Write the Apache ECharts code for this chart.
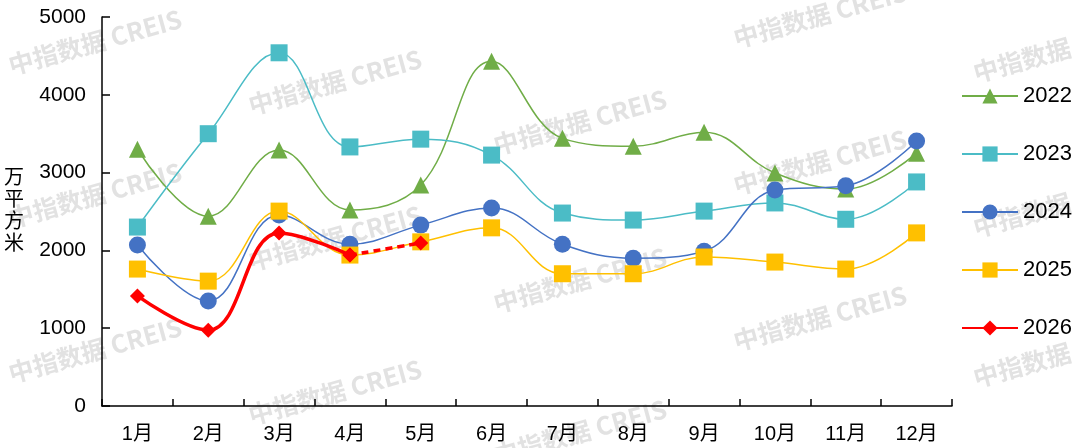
<!DOCTYPE html>
<html>
<head>
<meta charset="utf-8">
<script src="https://cdn.jsdelivr.net/npm/echarts@6/dist/echarts.min.js"></script>
<style>
  html, body { margin: 0; padding: 0; background: #fff; }
  #chart { width: 1080px; height: 448px; }
</style>
</head>
<body>
<div id="chart"></div>
<script>
// 月份
const months = ['1月', '2月', '3月', '4月', '5月', '6月', '7月', '8月', '9月', '10月', '11月', '12月'];

// 各年度数据（万平方米）
const v2022 = [3300, 2440, 3290, 2520, 2840, 4430, 3440, 3340, 3520, 2995, 2790, 3250];
const v2023 = [2300, 3500, 4540, 3330, 3430, 3225, 2480, 2390, 2505, 2610, 2400, 2880];
const v2024 = [2070, 1350, 2455, 2080, 2325, 2545, 2080, 1900, 1990, 2775, 2830, 3405];
const v2025 = [1760, 1605, 2505, 1940, 2110, 2290, 1700, 1700, 1915, 1850, 1760, 2225];
// 2026：1-4月实线，4-5月虚线
const v2026 = [1415, 975, 2225, 1940];
const v2026Dash = [null, null, null, 1940, 2095];

const yTicks = [0, 1000, 2000, 3000, 4000, 5000];

const chart = echarts.init(document.getElementById('chart'));

// 水印
const marks = [
  [95, 42, '中指数据 CREIS'], [335, 82, '中指数据 CREIS'], [820, 15, '中指数据 CREIS'], [1022, 60, '中指数据'],
  [95, 195, '中指数据 CREIS'], [335, 238, '中指数据 CREIS'], [580, 122, '中指数据 CREIS'], [820, 162, '中指数据 CREIS'], [1022, 215, '中指数据'],
  [95, 350, '中指数据 CREIS'], [335, 392, '中指数据 CREIS'], [580, 280, '中指数据 CREIS'], [820, 318, '中指数据 CREIS'], [1022, 365, '中指数据'],
  [580, 432, '中指数据 CREIS']
];
const watermark = marks.map(m => ({
  type: 'text',
  x: m[0],
  y: m[1],
  rotation: 0.27,
  z: 0,
  silent: true,
  style: {
    text: m[2],
    fill: '#e2e2e2',
    font: 'bold 25px "Noto Sans CJK SC", sans-serif',
    align: 'center',
    verticalAlign: 'middle'
  }
}));

const font = '"Liberation Sans", Arial, "Noto Sans CJK SC", sans-serif';

function lineSeries(name, data, color, symbol, size) {
  return {
    name: name,
    type: 'line',
    data: data,
    smooth: 0.4,
    symbol: symbol,
    symbolSize: size,
    lineStyle: { color: color, width: 1.5 },
    itemStyle: { color: color },
    z: 3
  };
}

const options = {
  animation: false,
  graphic: watermark,
  grid: { left: 102, right: 128, top: 17, bottom: 42 },
  legend: {
    orient: 'vertical',
    left: 956,
    top: 80,
    itemWidth: 56,
    itemHeight: 19,
    itemGap: 36,
    textStyle: { fontSize: 22, color: '#000', fontFamily: font },
    data: ['2022', '2023', '2024', '2025', '2026']
  },
  xAxis: {
    type: 'category',
    data: months,
    boundaryGap: true,
    axisLine: { lineStyle: { color: '#000', width: 1.5 } },
    axisTick: { show: true, inside: true, length: 7, alignWithLabel: false, lineStyle: { color: '#000', width: 1.5 } },
    axisLabel: { fontSize: 20, color: '#000', margin: 18, fontFamily: font }
  },
  yAxis: {
    type: 'value',
    min: yTicks[0],
    max: yTicks[yTicks.length - 1],
    interval: 1000,
    name: '万\n平\n方\n米',
    nameLocation: 'middle',
    nameRotate: 0,
    nameGap: 78,
    nameTextStyle: { fontSize: 20, color: '#000', lineHeight: 22, fontFamily: font },
    splitLine: { show: false },
    axisLine: { show: true, lineStyle: { color: '#000', width: 1.5 } },
    axisTick: { show: true, inside: true, length: 8, lineStyle: { color: '#000', width: 1.5 } },
    axisLabel: { fontSize: 21, color: '#000', margin: 16, fontFamily: font, formatter: v => String(v) }
  },
  series: [
    lineSeries('2022', v2022, '#70AD47', 'triangle', 17),
    lineSeries('2023', v2023, '#4BBCC6', 'rect', 17),
    lineSeries('2024', v2024, '#4472C4', 'circle', 17),
    lineSeries('2025', v2025, '#FFC000', 'rect', 17),
    {
      name: '2026',
      type: 'line',
      data: v2026,
      smooth: 0.4,
      symbol: 'diamond',
      symbolSize: 15,
      lineStyle: { color: '#FF0000', width: 3.5 },
      itemStyle: { color: '#FF0000' },
      z: 5
    },
    {
      name: '2026',
      type: 'line',
      data: v2026Dash,
      smooth: 0.4,
      symbol: 'diamond',
      symbolSize: 15,
      lineStyle: { color: '#FF0000', width: 3.5, type: [7, 5] },
      itemStyle: { color: '#FF0000' },
      z: 5
    }
  ]
};

chart.setOption(options);
</script>
</body>
</html>
